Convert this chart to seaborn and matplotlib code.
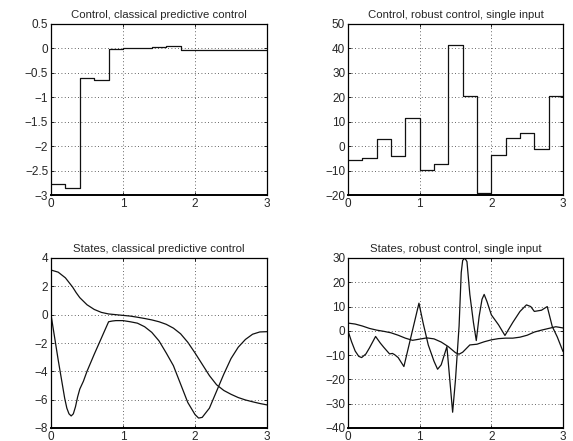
import numpy as np
import pandas as pd
import matplotlib
matplotlib.use("Agg")
import matplotlib.pyplot as plt
import seaborn as sns

# ---------------- data ----------------
t_ctrl = [0.0, 0.2, 0.4, 0.6, 0.8, 1.0, 1.2, 1.4, 1.6, 1.8, 2.0, 2.2, 2.4, 2.6, 2.8]
u_classical = [-2.78, -2.85, -0.60, -0.65, -0.02, 0.0, 0.0, 0.02, 0.04, -0.03,
               -0.03, -0.03, -0.03, -0.03, -0.03]
u_robust = [-5.5, -4.8, 3.0, -4.0, 11.5, -9.7, -7.2, 41.3, 20.5, -19.0,
            -3.8, 3.5, 5.2, -1.0, 20.7]
t_end = 3.0

t_a = [0, 0.1, 0.2, 0.3, 0.35, 0.4, 0.5, 0.6, 0.7, 0.8, 0.9, 1.0, 1.1, 1.2, 1.3, 1.4,
       1.5, 1.6, 1.7, 1.8, 1.9, 2.0, 2.1, 2.2, 2.3, 2.4, 2.5, 2.6, 2.7, 2.8, 2.9, 3.0]
x_a = [3.15, 3.0, 2.6, 1.95, 1.55, 1.2, 0.7, 0.37, 0.16, 0.05, 0.0, -0.05, -0.1, -0.18,
       -0.27, -0.37, -0.5, -0.68, -0.95, -1.35, -1.95, -2.7, -3.5, -4.3, -4.95,
       -5.35, -5.62, -5.85, -6.02, -6.15, -6.27, -6.37]

t_b = [0, 0.05, 0.1, 0.15, 0.19, 0.22, 0.25, 0.28, 0.31, 0.34, 0.37, 0.4, 0.45,
       0.5, 0.6, 0.7, 0.8, 0.85, 0.9, 1.0, 1.1, 1.2, 1.3, 1.4, 1.5, 1.6, 1.7, 1.8,
       1.9, 2.0, 2.05, 2.1, 2.2, 2.3, 2.4, 2.5, 2.6, 2.7, 2.8, 2.9, 3.0]
x_b = [0.0, -1.6, -3.2, -4.7, -5.9, -6.6, -7.0, -7.15, -7.0, -6.5, -5.8, -5.25,
       -4.7, -4.0, -2.8, -1.65, -0.5, -0.45, -0.42, -0.42, -0.5, -0.6, -0.85,
       -1.25, -1.85, -2.7, -3.6, -4.9, -6.2, -7.05, -7.3, -7.25, -6.6, -5.4,
       -4.2, -3.1, -2.3, -1.75, -1.38, -1.22, -1.2]

t_c = [0, 0.1, 0.2, 0.3, 0.4, 0.5, 0.6, 0.7, 0.8, 0.9, 1.0, 1.1, 1.2, 1.3, 1.4,
       1.5, 1.55, 1.6, 1.7, 1.8, 1.9, 2.0, 2.1, 2.2, 2.3, 2.4, 2.5, 2.6, 2.7, 2.8,
       2.9, 3.0]
x_c = [3.2, 2.8, 2.0, 1.0, 0.3, -0.2, -0.8, -1.8, -3.0, -3.9, -3.4, -2.9, -3.3,
       -4.6, -6.5, -9.0, -9.6, -8.8, -5.8, -5.5, -4.5, -3.7, -3.2, -3.0, -3.0,
       -2.6, -1.8, -0.5, 0.3, 1.0, 1.7, 1.2]

t_d = [0, 0.05, 0.1, 0.15, 0.19, 0.25, 0.3, 0.385, 0.45, 0.5, 0.58, 0.62, 0.65,
       0.7, 0.78, 0.85, 0.92, 0.99, 1.05, 1.12, 1.2, 1.25, 1.3, 1.38, 1.42, 1.46,
       1.5, 1.55, 1.58, 1.6, 1.63, 1.66, 1.7, 1.75, 1.79, 1.83, 1.87, 1.9, 1.94,
       2.0, 2.1, 2.19, 2.3, 2.4, 2.49, 2.55, 2.6, 2.7, 2.78, 2.85, 2.92, 3.0]
x_d = [0.0, -4.5, -8.3, -10.5, -11.0, -9.5, -7.0, -2.3, -5.0, -6.8, -9.5, -9.3,
       -9.8, -11.0, -14.7, -6.0, 2.7, 11.4, 3.0, -5.8, -12.5, -15.8, -14.0, -6.5,
       -20.0, -33.5, -20.0, 2.0, 24.0, 29.0, 30.0, 28.5, 15.0, 3.5, -4.0, 6.0,
       13.0, 15.0, 12.0, 6.6, 2.5, -1.9, 3.5, 8.0, 10.7, 10.0, 8.0, 8.5, 10.0,
       1.8, -2.5, -8.5]

titles = ["Control, classical predictive control",
          "Control, robust control, single input",
          "States, classical predictive control",
          "States, robust control, single input"]

# ---------------- style ----------------
sns.set_style("white")
plt.rcParams['font.family'] = ['Liberation Sans', 'DejaVu Sans']
plt.rcParams['font.size'] = 8.5

fig = plt.figure(figsize=(5.73, 4.41), dpi=100)
W, H = 573.0, 441.0
def add_ax(l, r, t, b):
    return fig.add_axes([l / W, 1 - b / H, (r - l) / W, (b - t) / H])

ax1 = add_ax(51, 267, 24, 195)
ax2 = add_ax(348, 563, 24, 195)
ax3 = add_ax(51, 267, 258, 428)
ax4 = add_ax(348, 563, 258, 428)

lw = 0.9
col = "#111111"

df1 = pd.DataFrame({"t": t_ctrl + [t_end], "u": u_classical + [u_classical[-1]]})
sns.lineplot(data=df1, x="t", y="u", ax=ax1, color=col, lw=lw,
             drawstyle="steps-post", estimator=None, sort=False)
df2 = pd.DataFrame({"t": t_ctrl + [t_end], "u": u_robust + [u_robust[-1]]})
sns.lineplot(data=df2, x="t", y="u", ax=ax2, color=col, lw=lw,
             drawstyle="steps-post", estimator=None, sort=False)

sns.lineplot(x=t_a, y=x_a, ax=ax3, color=col, lw=lw, estimator=None, sort=False)
sns.lineplot(x=t_b, y=x_b, ax=ax3, color=col, lw=lw, estimator=None, sort=False)
sns.lineplot(x=t_c, y=x_c, ax=ax4, color=col, lw=lw, estimator=None, sort=False)
sns.lineplot(x=t_d, y=x_d, ax=ax4, color=col, lw=lw, estimator=None, sort=False)

ylims = [(-3, 0.5), (-20, 50), (-8, 4), (-40, 30)]
yticks = [np.arange(-3, 0.51, 0.5), np.arange(-20, 51, 10),
          np.arange(-8, 4.1, 2), np.arange(-40, 31, 10)]

def fmt(v):
    s = ("%g" % v)
    return s.replace("-", "\u2212")

for ax, title, yl, yt in zip([ax1, ax2, ax3, ax4], titles, ylims, yticks):
    ax.set_xlim(0, 3)
    ax.set_ylim(*yl)
    ax.set_xticks([0, 1, 2, 3])
    ax.set_xticklabels([fmt(v) for v in [0, 1, 2, 3]])
    ax.set_yticks(yt)
    ax.set_yticklabels([fmt(v) for v in yt])
    ax.set_xlabel("")
    ax.set_ylabel("")
    ax.set_title(title, fontsize=8.2, pad=4)
    ax.grid(True, color="#333333", linestyle=(0, (1, 3)), linewidth=0.6)
    ax.tick_params(direction="in", length=2, width=0.6, labelsize=8.5, pad=2,
                   top=True, right=True, bottom=True, left=True, color="k")
    for name, s in ax.spines.items():
        s.set_visible(True)
        s.set_color("k")
        s.set_linewidth(1.4 if name == "bottom" else 0.9)

fig.savefig("out.png", dpi=100)
